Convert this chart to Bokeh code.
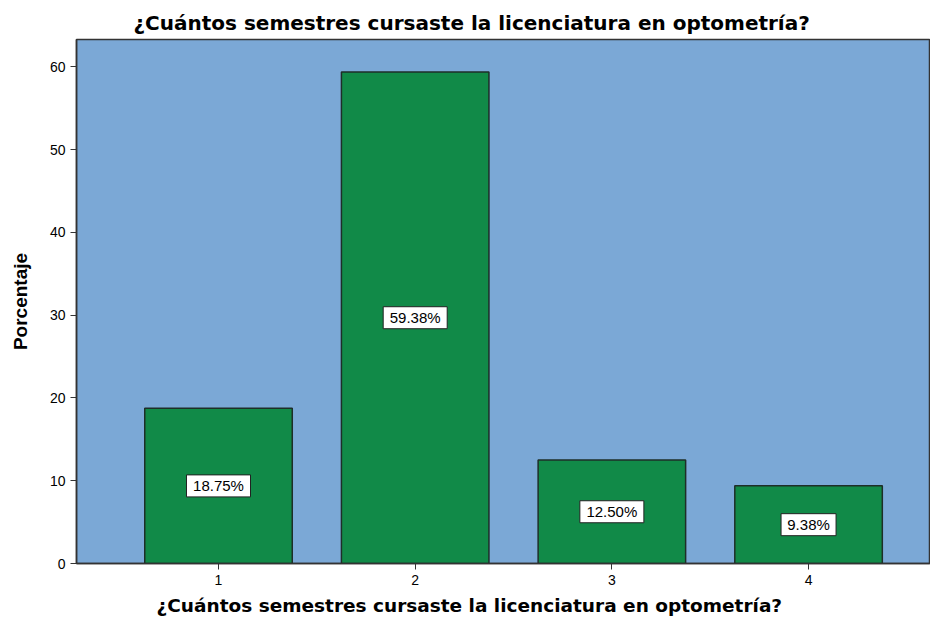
from bokeh.plotting import figure
from bokeh.models import ColumnDataSource, LabelSet, Title, FixedTicker, Range1d
from bokeh.core.properties import value
from bokeh.embed import file_html
from bokeh.resources import INLINE

categories = [1, 2, 3, 4]
percentages = [18.75, 59.38, 12.50, 9.38]
labels = ["18.75%", "59.38%", "12.50%", "9.38%"]
y_ticks = [0, 10, 20, 30, 40, 50, 60]
title_text = "¿Cuántos semestres cursaste la licenciatura en optometría?"

src = ColumnDataSource(dict(x=categories, top=percentages,
                            mid=[v / 2 for v in percentages], lab=labels,
                            boxw=[len(s) * 9 + 10 for s in labels]))

p = figure(width=930, height=620, output_backend="svg", toolbar_location=None,
           x_range=Range1d(0.278, 4.62), y_range=Range1d(0, 63.3),
           min_border_left=76, min_border_right=0, min_border_top=39, min_border_bottom=56)

p.background_fill_color = "#7BA8D6"
p.border_fill_color = "white"
p.outline_line_color = "#333333"
p.outline_line_width = 1.5
p.grid.visible = False

p.vbar(x="x", top="top", bottom=0, width=0.75, source=src,
       fill_color="#118A48", line_color="#1E2E28", line_width=1.5)

p.rect(x="x", y="mid", width="boxw", height=22, width_units="screen",
       height_units="screen", source=src, fill_color="white",
       line_color="#222222", line_width=1)

ls = LabelSet(x="x", y="mid", text="lab", source=src, text_align="center",
              text_baseline="middle", text_font=value("Liberation Sans"),
              text_font_size=value("15px"), text_color="black")
p.add_layout(ls)

p.title.text = title_text
p.title.align = "left"
p.title.offset = 57
p.title.text_font = "DejaVu Sans"
p.title.text_font_size = "20px"
p.title.text_font_style = "bold"
p.title.text_color = "black"

p.add_layout(Title(text=title_text, align="left", offset=80,
                   text_font="DejaVu Sans", text_font_size="18.5px",
                   text_font_style="bold", text_color="black"), "below")

p.xaxis.ticker = FixedTicker(ticks=categories)
p.yaxis.ticker = FixedTicker(ticks=y_ticks)
for ax in (p.xaxis, p.yaxis):
    ax.axis_line_color = "#333333"
    ax.axis_line_width = 1.5
    ax.major_tick_line_color = "#333333"
    ax.major_tick_out = 6
    ax.major_tick_in = 0
    ax.minor_tick_line_color = None
    ax.major_label_text_font = "Liberation Sans"
    ax.major_label_text_font_size = "14px"
    ax.major_label_text_color = "black"

p.yaxis.axis_label = "Porcentaje"
p.yaxis.axis_label_standoff = 16
p.yaxis.axis_label_text_font = "Liberation Sans"
p.yaxis.axis_label_text_font_size = "19px"
p.yaxis.axis_label_text_font_style = "bold"
p.yaxis.axis_label_text_color = "black"

open("out.html", "w").write(file_html(p, INLINE))
